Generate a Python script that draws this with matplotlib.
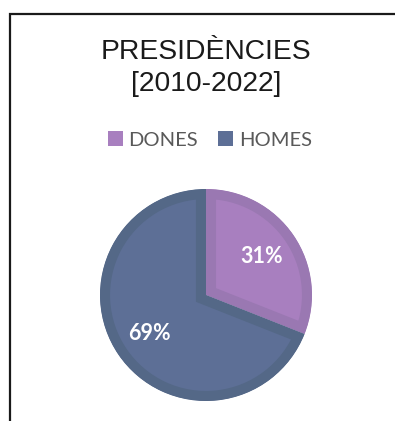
import matplotlib
matplotlib.use("Agg")
import matplotlib.pyplot as plt
from matplotlib.patches import Rectangle, Patch

categories = ["DONES", "HOMES"]
values = [31, 69]
title_lines = ["PRESIDÈNCIES", "[2010-2022]"]
fill_colors = ["#A87FBF", "#5D6F96"]
edge_colors = ["#9A78B2", "#546887"]

W, H = 395, 421
fig = plt.figure(figsize=(W / 100, H / 100), dpi=100)
fig.patch.set_facecolor("white")

# border (cropped frame)
fig.add_artist(Rectangle((9.5 / W, -0.1), 1.2, 1 - 13.5 / H + 0.1,
                         transform=fig.transFigure, fill=False,
                         edgecolor="#1a1a1a", linewidth=1.6, clip_on=False))

# title
fig.text(206 / W, 1 - 52 / H, title_lines[0], ha="center", va="center",
         family="Liberation Sans", fontsize=20.3, color="#1a1a1a")
fig.text(206 / W, 1 - 84 / H, title_lines[1], ha="center", va="center",
         family="Liberation Sans", fontsize=20.3, color="#1a1a1a")

# pie
cx, cy, R = 206, 295, 106
ax = fig.add_axes([(cx - R) / W, (H - cy - R) / H, 2 * R / W, 2 * R / H])
wedges, texts, autotexts = ax.pie(
    values, colors=fill_colors, startangle=90, counterclock=False,
    autopct=lambda p: f"{p:.0f}%", pctdistance=0.64, radius=1,
    textprops=dict(color="white", fontsize=15.5, fontweight="bold", family="Lato"))
for w, ec in zip(wedges, edge_colors):
    w.set_edgecolor(ec)
    w.set_linewidth(14.5)
    w.set_clip_on(True)
    w.set_clip_path(w)
ax.set_xlim(-1, 1)
ax.set_ylim(-1, 1)
ax.set_aspect("equal")
ax.axis("off")

# legend
handles = [Patch(facecolor=c, edgecolor="none") for c in fill_colors]
fig.legend(handles, categories, loc="center", bbox_to_anchor=(210 / W, 1 - 140 / H),
           ncol=2, frameon=False, prop=dict(family="Lato", size=14.5),
           labelcolor="#595959", handlelength=0.72, handleheight=0.72,
           handletextpad=0.3, columnspacing=1.0, borderpad=0, borderaxespad=0)

fig.savefig("out.png", dpi=100, facecolor="white")
